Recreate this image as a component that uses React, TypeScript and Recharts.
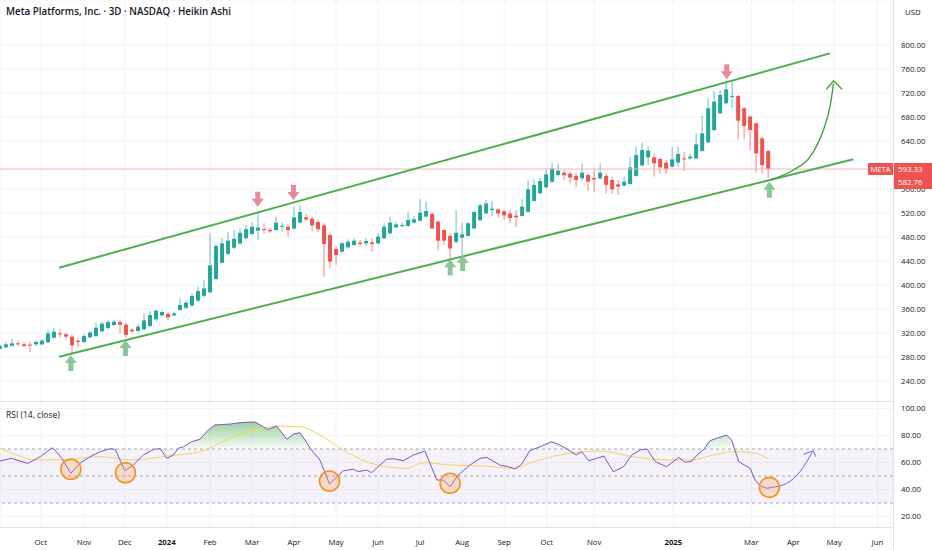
import React from "react";
import {
  Area,
  CartesianGrid,
  ComposedChart,
  Bar,
  Line,
  ReferenceArea,
  ReferenceLine,
  Scatter,
  XAxis,
  YAxis,
} from "recharts";

// Heikin Ashi 3D candles, index 0 = first visible bar (Sep 2023)
const opens = [
  293.9, 296.1, 298.9, 302.8, 301.1, 300.6, 301.1, 301.1, 304.5, 312.2,
  319.4, 317.8, 313.9, 307.2, 305, 312.8, 315, 322.8, 328.3, 333.3,
  338.3, 333.9, 325.6, 323.3, 326.1, 331.7, 342.8, 349.4, 351.7, 349.4,
  358.3, 362, 366, 374, 382, 388, 410, 437, 452, 462,
  469, 478, 485, 490.6, 493.3, 492, 491.7, 497.2, 497.2, 494,
  504, 512.8, 510.6, 505, 499.4, 483.3, 460, 455.6, 462.8, 466.7,
  470.6, 469.4, 471, 469.4, 477.8, 486, 496, 498.3, 498.3, 504,
  507, 514, 518.3, 505.6, 491.7, 482, 472, 478.9, 481.7, 494.4,
  508, 519.4, 525, 526, 522.8, 519, 515.6, 515, 522, 540,
  552.8, 562.8, 572, 583.3, 587, 585.6, 582, 577.8, 583.3, 578.3,
  577.8, 582, 575, 567.8, 565.6, 568.3, 581.7, 599.4, 612.8, 612.8,
  610, 604, 597.2, 604, 611, 611, 611, 623.3, 637.8, 658.3,
  686, 702.8, 713.9, 715, 694.4, 680.6, 669.4, 644.4, 623.3,
];
const highs = [
  301.7, 305, 310, 307.2, 304.5, 305.6, 308.3, 310, 325, 328.9,
  326.1, 320.6, 316.7, 311.1, 318.3, 323.9, 337.2, 338.9, 341.7, 341.7,
  342.8, 337.2, 328.3, 334.4, 352.8, 356.7, 359.4, 357.2, 354.4, 355.6,
  377.8, 375, 386, 397, 408, 486, 469, 478, 489, 492,
  494, 500, 504, 522, 503, 495, 514, 504, 500, 530.6,
  533, 519, 514, 509, 503, 486, 464, 472, 476, 478,
  475, 478, 478, 486, 503, 514, 505.6, 504, 522, 515,
  543, 539, 522, 508, 494, 486, 525, 504, 505.6, 525,
  536, 541.7, 540, 527.8, 526, 525, 525, 543, 575, 576,
  579, 594, 603, 602, 591.7, 589, 587, 602, 586, 594,
  603, 586, 580.6, 575, 580.6, 614, 630.6, 637, 630.6, 619.4,
  612.8, 608.3, 630.6, 630.6, 622, 619.4, 652.8, 681.7, 711, 724,
  724, 740.6, 739, 716.7, 697, 683.3, 672, 647, 625,
];
const lows = [
  292.8, 295, 297.2, 298.3, 296.1, 288.3, 298.9, 299.4, 302.8, 310.6,
  312.8, 310, 283.3, 297.2, 303.3, 310.6, 313.3, 321.1, 326.1, 331.7,
  319.4, 311.7, 320.6, 321.1, 325, 330, 340.6, 347.2, 341.7, 347.2,
  357.2, 360, 363, 371, 379, 386, 408, 436, 450, 460,
  468, 476, 483, 475, 485, 486, 490, 489, 480.6, 493,
  503, 505.6, 489, 488, 414, 428, 433, 453, 460.6, 465,
  464, 465, 455.6, 467.8, 476.7, 484.4, 495, 496, 497, 502.8,
  505.6, 512.8, 492.8, 458, 466.7, 444, 469, 450, 480.6, 492.8,
  505.6, 518, 515, 512.8, 508.3, 502.8, 496, 514, 520.6, 539,
  551.7, 561, 570.6, 580.6, 575, 569.4, 562.8, 574, 557, 555.6,
  576, 552.8, 551.7, 550, 564, 566.7, 580.6, 597, 600, 580.6,
  586, 585, 596, 597, 590, 608.3, 609.4, 622, 636, 656.7,
  684.4, 701, 694.4, 641.7, 642.8, 625, 587, 586, 577.8,
];
const closes = [
  298.3, 301.1, 302.8, 301.1, 298.3, 298.9, 305, 307.2, 319.4, 322.2,
  317.8, 313.9, 299.4, 305, 315, 320.6, 328.9, 335.6, 338.3, 338.9,
  333.9, 316.7, 322.8, 330.6, 341.1, 350, 357.2, 355, 346.1, 352.8,
  366.7, 370.6, 381.7, 390, 394.4, 432.8, 465, 469.4, 474, 477,
  487, 493, 497, 495.6, 491.7, 489.4, 503.9, 498.9, 491.7, 512.8,
  521.7, 509.4, 499.4, 492.8, 468.3, 438.9, 450, 469.4, 472.2, 473.9,
  468.3, 473.3, 468.3, 480.6, 497.2, 504, 501, 500, 508.3, 509.4,
  520.6, 523.3, 494.4, 473.9, 473.9, 461, 487, 484.4, 502.8, 521.7,
  532.8, 536, 527.2, 519.4, 516, 511.7, 512.8, 530.6, 559.4, 566.7,
  573.3, 584.4, 594.4, 590.6, 582.8, 579, 575, 587.2, 572.2, 576,
  587.2, 567, 559.4, 564, 572.2, 596, 616.7, 625, 624, 602.8,
  596, 592.8, 609.4, 618.3, 609.4, 613.9, 634.4, 652.8, 694.4, 705.6,
  716.7, 726, 715, 673.9, 665, 658.3, 619.4, 600, 593.3,
];

const lastClose = 593.33;
const lastPrice = 582.76;

// month labels and their bar positions
const monthLabels = [
  "Oct", "Nov", "Dec", "2024", "Feb", "Mar", "Apr", "May", "Jun", "Jul",
  "Aug", "Sep", "Oct", "Nov", "2025", "Mar", "Apr", "May", "Jun",
];
const monthPos = [
  6.8, 14, 20.8, 27.8, 35, 42, 49, 56, 63, 70,
  77, 84, 91.1, 99, 112.2, 125.2, 132.2, 139, 146.2,
];
const priceTicks = [240, 280, 320, 360, 400, 440, 480, 520, 560, 640, 680, 720, 760, 800];
const rsiTicks = [20, 40, 60, 80, 100];

// RSI (14, close)
const rsiIdx = [
  0, 1.9, 4.2, 4.7, 6.7, 8.6, 8.9, 10.3, 11.8, 13.3,
  15, 16.7, 18.3, 19.2, 20.8, 22.2, 23.9, 25.6, 26.7, 27.8,
  28.9, 29.7, 30.6, 31.9, 33.3, 34.7, 35.8, 38.3, 40, 41.7,
  42.5, 43.9, 44.7, 46.1, 47.8, 48.9, 50, 51.9, 53.3, 54.9,
  57.2, 58.9, 59.7, 61.1, 61.9, 64.4, 65.6, 67.2, 68.9, 70.8,
  72.8, 73.9, 75, 76.3, 78.3, 80, 81.1, 83.3, 84.7, 85.8,
  86.9, 88.3, 90, 91.9, 93.3, 94.7, 96, 96.9, 98.1, 99.4,
  100.6, 102.2, 103.9, 105.3, 106.7, 107.8, 109.2, 111.1, 113.1, 114.2,
  115.3, 116.4, 117.2, 118.3, 119.4, 121.1, 121.9, 123.1, 125, 125.8,
  126.7, 127.8, 128.6,
];
const rsiVals = [
  61.1, 63.1, 59.9, 59.4, 64.3, 70.6, 70.6, 63.1, 52, 59.4,
  64.3, 68, 70.2, 69.8, 53.9, 58.1, 65.6, 69.8, 70.2, 63.1,
  65.6, 70.5, 71.7, 75.4, 77.2, 84.1, 87.8, 88.5, 89.5, 90,
  90, 86.5, 84.6, 87, 77.2, 81.1, 82.1, 69.3, 61.9, 44.1,
  53.9, 55, 53.2, 54.4, 52.5, 62.4, 62.8, 61.3, 65.6, 68.5,
  47, 47, 42, 50.5, 58.1, 63.1, 63.8, 58.1, 56.9, 55.2,
  58.6, 68.8, 71.7, 75.4, 73, 69.3, 65.6, 68, 61.3, 63.1,
  64.8, 53.2, 56.9, 65.6, 69.3, 70, 60.6, 56.9, 63.8, 60.1,
  61.1, 66.8, 69.3, 76.1, 77.9, 80.4, 76.7, 60.6, 55.7, 47,
  42.6, 40.9, 41.6,
];
const maIdx = [
  0, 2.8, 5.6, 11.1, 16.7, 22.2, 27.8, 33.3, 38.9, 44.4,
  46.1, 50, 53.3, 57.2, 61.1, 64.4, 67.8, 70.6, 75, 80.6,
  85.6, 88.9, 93.3, 100, 105.6, 111.1, 115, 119.4, 122.2, 125, 128,
];
const maVals = [
  70.5, 65.6, 61.9, 62.4, 64.3, 61.9, 64.8, 68, 79.1, 86.1,
  87, 86.5, 80.4, 69.3, 60.6, 56.9, 55.7, 59.9, 58.1, 57.4,
  55.7, 60.6, 65.6, 68.5, 64.3, 61.9, 61.9, 66.1, 68, 67.5, 63.1,
];

// annotations
const downArrows = [
  { i: 42.95, p: 530.5 },
  { i: 48.9, p: 541.7 },
  { i: 121.1, p: 742.8 },
];
const upArrows = [
  { i: 11.8, p: 283.3 },
  { i: 20.9, p: 308.3 },
  { i: 75, p: 442.8 },
  { i: 77.1, p: 450 },
  { i: 128.2, p: 572.2 },
];
const upperChannel = [
  { x: 9.83, y: 428.8 },
  { x: 138.3, y: 786.1 },
];
const lowerChannel = [
  { x: 9.83, y: 280.5 },
  { x: 142.2, y: 609.5 },
];
const greenCurve = [
  { i: 128.3, p: 575 },
  { i: 132.2, p: 591.7 },
  { i: 135, p: 613.8 },
  { i: 137.2, p: 658.3 },
  { i: 138.3, p: 697.2 },
  { i: 138.9, p: 736.2 },
];
const greenHead = [
  { i: 137.7, p: 726.2 },
  { i: 138.9, p: 740.5 },
  { i: 140.3, p: 726.2 },
];
const rsiCircles = [
  { i: 11.8, rsi: 55 },
  { i: 20.9, rsi: 52.4 },
  { i: 54.9, rsi: 46.3 },
  { i: 75, rsi: 44.6 },
  { i: 128.2, rsi: 41.6 },
];
const blueCurve = [
  { i: 128.6, rsi: 41.6 },
  { i: 131.1, rsi: 44.6 },
  { i: 133.3, rsi: 53.2 },
  { i: 135.3, rsi: 67.3 },
];
const blueHead = [
  { i: 133.9, rsi: 66.2 },
  { i: 135.5, rsi: 68.6 },
  { i: 135.9, rsi: 64.4 },
];

const candles = opens.map((o, i) => ({
  i,
  open: o,
  high: highs[i],
  low: lows[i],
  close: closes[i],
}));
const rsiData = rsiIdx.map((i, k) => ({ i, rsi: rsiVals[k] }));
const maData = maIdx.map((i, k) => ({ i, ma: maVals[k] }));

const UP = "#26a69a";
const DOWN = "#ef5350";
const FONT = "'Open Sans', 'Noto Sans', sans-serif";
const TEXT = "#131722";

const Candle = (props: any) => {
  const { x, y, width, height, payload } = props;
  if (!payload) return null;
  const { open, close, high, low } = payload;
  const color = close >= open ? UP : DOWN;
  const top = Math.min(y, y + height);
  const bot = Math.max(y, y + height);
  const span = high - low || 1;
  const toY = (v: number) => top + ((high - v) / span) * (bot - top);
  const cx = x + width / 2;
  const bTop = toY(Math.max(open, close));
  const bBot = toY(Math.min(open, close));
  return (
    <g>
      <line x1={cx} x2={cx} y1={top} y2={bot} stroke={color} strokeOpacity={0.7} />
      <rect x={cx - 2} y={bTop} width={4} height={Math.max(1, bBot - bTop)} fill={color} />
    </g>
  );
};

const DownArrow = (props: any) => {
  const { cx, cy } = props;
  return (
    <g fill="#e88a96">
      <rect x={cx - 2.5} y={cy - 15} width={5} height={7.5} />
      <polygon points={`${cx - 6},${cy - 8} ${cx + 6},${cy - 8} ${cx},${cy}`} />
    </g>
  );
};

const UpArrow = (props: any) => {
  const { cx, cy } = props;
  return (
    <g fill="#8cc598">
      <rect x={cx - 2.5} y={cy + 7.5} width={5} height={8.5} />
      <polygon points={`${cx - 6},${cy + 8} ${cx + 6},${cy + 8} ${cx},${cy}`} />
    </g>
  );
};

const Ring = (props: any) => {
  const { cx, cy } = props;
  return (
    <circle cx={cx} cy={cy} r={10} fill="#f7a35c" fillOpacity={0.3} stroke="#f5921e" strokeWidth={1.6} />
  );
};

const MonthTick = (props: any) => {
  const { x, y, payload } = props;
  const k = monthPos.indexOf(payload.value);
  const label = monthLabels[k] ?? "";
  const year = /^\d{4}$/.test(label);
  return (
    <text
      x={x}
      y={y + 16}
      textAnchor="middle"
      fontSize={7.8}
      fontFamily={FONT}
      fontWeight={year ? 700 : 400}
      fill={TEXT}
    >
      {label}
    </text>
  );
};

const axisTick = { fontSize: 7.8, fill: TEXT, fontFamily: FONT };

// plain path lines, no dots anywhere
const pathLine = {
  dot: false,
  activeDot: false,
  legendType: "none" as const,
  isAnimationActive: false,
};

export default function App() {
  return (
    <div
      style={{
        position: "absolute",
        left: 0,
        top: 0,
        width: 932,
        height: 550,
        background: "#ffffff",
        overflow: "hidden",
        fontFamily: FONT,
      }}
    >
      <ComposedChart
        width={932}
        height={401}
        data={candles}
        margin={{ top: 0, right: 0, bottom: 0, left: 0 }}
      >
        <CartesianGrid stroke="#f3f4f6" />
        <XAxis
          dataKey="i"
          type="number"
          domain={[0, 148.8]}
          ticks={monthPos}
          allowDataOverflow
          hide
        />
        <YAxis
          orientation="right"
          width={39}
          domain={[206.7, 875]}
          ticks={priceTicks}
          allowDataOverflow
          axisLine={false}
          tickLine={false}
          tickSize={0}
          tickMargin={8}
          tick={{ ...axisTick, textAnchor: "start" }}
          tickFormatter={(v: number) => v.toFixed(2)}
        />
        <ReferenceLine y={lastClose} stroke="#f6b3b8" strokeWidth={1} />
        <ReferenceLine segment={upperChannel} stroke="#4caf50" strokeWidth={2} />
        <ReferenceLine segment={lowerChannel} stroke="#4caf50" strokeWidth={2} />
        <Bar
          dataKey={(d: any) => [d.low, d.high]}
          shape={(p: any) => <Candle {...p} />}
          barSize={4}
          isAnimationActive={false}
        />
        <Line data={greenCurve} dataKey="p" type="monotone" stroke="#43a047" strokeWidth={1.4} {...pathLine} />
        <Line data={greenHead} dataKey="p" type="linear" stroke="#43a047" strokeWidth={1.4} {...pathLine} />
        <Scatter
          data={downArrows}
          dataKey="p"
          shape={(p: any) => <DownArrow {...p} />}
          isAnimationActive={false}
        />
        <Scatter
          data={upArrows}
          dataKey="p"
          shape={(p: any) => <UpArrow {...p} />}
          isAnimationActive={false}
        />
      </ComposedChart>

      <ComposedChart
        width={932}
        height={149}
        data={rsiData}
        margin={{ top: 0, right: 0, bottom: 0, left: 0 }}
      >
        <defs>
          <linearGradient id="rsi-green" x1="0" y1="0" x2="0" y2="1">
            <stop offset="0%" stopColor="#4caf50" stopOpacity={0.55} />
            <stop offset="100%" stopColor="#4caf50" stopOpacity={0.04} />
          </linearGradient>
        </defs>
        <CartesianGrid stroke="#f3f4f6" />
        <XAxis
          dataKey="i"
          type="number"
          domain={[0, 148.8]}
          ticks={monthPos}
          allowDataOverflow
          height={23}
          axisLine={false}
          tickLine={false}
          tickSize={0}
          tick={(p: any) => <MonthTick {...p} />}
          interval={0}
        />
        <YAxis
          orientation="right"
          width={39}
          domain={[12.2, 105.6]}
          ticks={rsiTicks}
          allowDataOverflow
          axisLine={false}
          tickLine={false}
          tickSize={0}
          tickMargin={8}
          tick={{ ...axisTick, textAnchor: "start" }}
          tickFormatter={(v: number) => v.toFixed(2)}
        />
        <ReferenceArea y1={30} y2={70} fill="#7e57c2" fillOpacity={0.08} stroke="none" />
        <ReferenceLine y={70} stroke="#a3a6af" strokeDasharray="3 3" />
        <ReferenceLine y={50} stroke="#a3a6af" strokeDasharray="3 3" />
        <ReferenceLine y={30} stroke="#a3a6af" strokeDasharray="3 3" />
        <Area
          dataKey={(d: any) => Math.max(d.rsi, 70)}
          baseValue={70}
          type="linear"
          stroke="none"
          fill="url(#rsi-green)"
          fillOpacity={1}
          {...pathLine}
        />
        <Line data={maData} dataKey="ma" type="monotone" stroke="#f6d35b" strokeWidth={1} {...pathLine} />
        <Line dataKey="rsi" type="linear" stroke="#7e57c2" strokeWidth={1} {...pathLine} />
        <Scatter
          data={rsiCircles}
          dataKey="rsi"
          shape={(p: any) => <Ring {...p} />}
          isAnimationActive={false}
        />
        <Line data={blueCurve} dataKey="rsi" type="monotone" stroke="#5c6bdf" strokeWidth={1} {...pathLine} />
        <Line data={blueHead} dataKey="rsi" type="linear" stroke="#5c6bdf" strokeWidth={1} {...pathLine} />
      </ComposedChart>

      {/* pane borders */}
      <div style={{ position: "absolute", left: 893, top: 0, width: 1, height: 550, background: "#e0e3eb" }} />
      <div style={{ position: "absolute", left: 0, top: 401, width: 893, height: 1, background: "#e0e3eb" }} />
      <div style={{ position: "absolute", left: 0, top: 527, width: 893, height: 1, background: "#e0e3eb" }} />

      {/* header texts */}
      <div
        style={{
          position: "absolute",
          left: 6,
          top: 5,
          fontSize: 9.8,
          fontWeight: 600,
          color: TEXT,
          whiteSpace: "nowrap",
        }}
      >
        Meta Platforms, Inc. · 3D · NASDAQ · Heikin Ashi
      </div>
      <div style={{ position: "absolute", left: 905, top: 7, fontSize: 7.8, color: TEXT }}>USD</div>
      <div style={{ position: "absolute", left: 6, top: 409, fontSize: 8.5, color: TEXT }}>
        RSI (14, close)
      </div>

      {/* last price labels */}
      <div
        style={{
          position: "absolute",
          left: 868,
          top: 163,
          width: 25,
          height: 12,
          background: DOWN,
          color: "#fff",
          fontSize: 7.6,
          lineHeight: "12px",
          textAlign: "center",
        }}
      >
        META
      </div>
      <div
        style={{
          position: "absolute",
          left: 894,
          top: 163,
          width: 38,
          height: 26,
          background: DOWN,
          color: "#fff",
          fontSize: 7.8,
          lineHeight: "13px",
          paddingLeft: 4,
          boxSizing: "border-box",
        }}
      >
        <div>{lastClose.toFixed(2)}</div>
        <div>{lastPrice.toFixed(2)}</div>
      </div>
    </div>
  );
}
